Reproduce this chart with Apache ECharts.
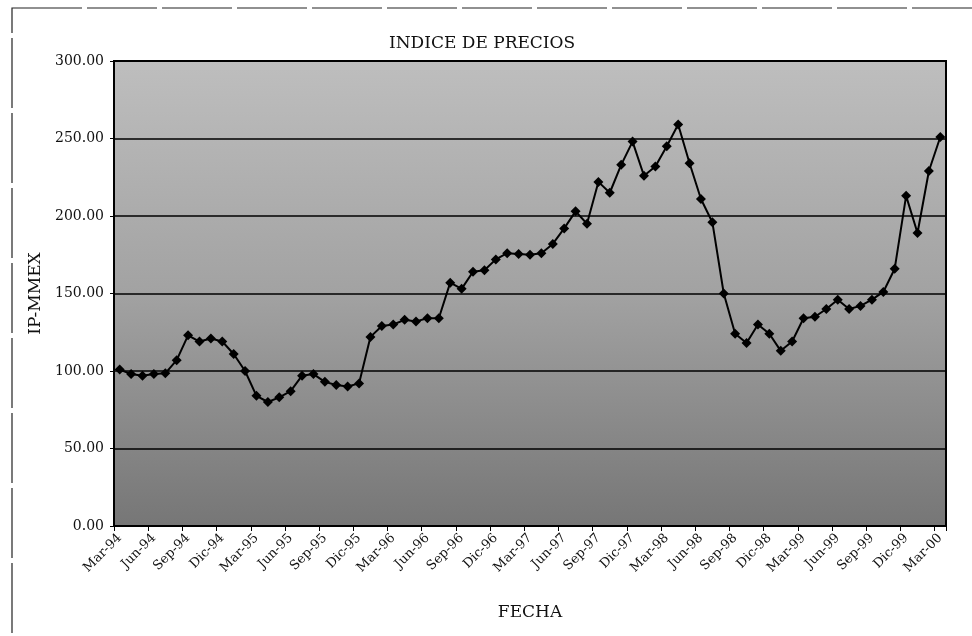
<!DOCTYPE html>
<html>
<head>
<meta charset="utf-8">
<script src="https://cdn.jsdelivr.net/npm/echarts@6/dist/echarts.min.js"></script>
<style>
  html, body { margin: 0; padding: 0; background: #fff; }
  #chart { width: 972px; height: 636px; }
</style>
</head>
<body>
<div id="chart"></div>
<script>
// meses Mar-94 .. Mar-00
const fechas = [
  'Mar-94','Abr-94','May-94','Jun-94','Jul-94','Ago-94','Sep-94','Oct-94','Nov-94','Dic-94',
  'Ene-95','Feb-95','Mar-95','Abr-95','May-95','Jun-95','Jul-95','Ago-95','Sep-95','Oct-95','Nov-95','Dic-95',
  'Ene-96','Feb-96','Mar-96','Abr-96','May-96','Jun-96','Jul-96','Ago-96','Sep-96','Oct-96','Nov-96','Dic-96',
  'Ene-97','Feb-97','Mar-97','Abr-97','May-97','Jun-97','Jul-97','Ago-97','Sep-97','Oct-97','Nov-97','Dic-97',
  'Ene-98','Feb-98','Mar-98','Abr-98','May-98','Jun-98','Jul-98','Ago-98','Sep-98','Oct-98','Nov-98','Dic-98',
  'Ene-99','Feb-99','Mar-99','Abr-99','May-99','Jun-99','Jul-99','Ago-99','Sep-99','Oct-99','Nov-99','Dic-99',
  'Ene-00','Feb-00','Mar-00'
];

const ipMmex = [
  101, 98, 97, 98, 98.5, 107, 123, 119, 121, 119,
  111, 100, 84, 80, 83, 87, 97, 98, 93, 91, 90, 92,
  122, 129, 130, 133, 132, 134, 134, 157, 153, 164, 165, 172,
  176, 175.5, 175, 176, 182, 192, 203, 195, 222, 215, 233, 248,
  226, 232, 245, 259, 234, 211, 196, 150, 124, 118, 130, 124,
  113, 119, 134, 135, 140, 146, 140, 142, 146, 151, 166, 213,
  189, 229, 251
];

const yTicks = [0, 50, 100, 150, 200, 250, 300];

const serif = '"DejaVu Serif", "Liberation Serif", serif';

const myChart = echarts.init(document.getElementById('chart'));

const option = {
  animation: false,
  backgroundColor: '#ffffff',
  title: {
    text: 'INDICE DE PRECIOS',
    left: 384,
    top: 30,
    textStyle: {
      fontFamily: serif,
      fontSize: 17,
      fontWeight: 'normal',
      color: '#111'
    }
  },
  graphic: [
    {
      type: 'rect',
      shape: { x: 12, y: 8, width: 1000, height: 700 },
      style: { fill: 'none', stroke: '#222', lineWidth: 1.2, lineDash: [70, 5] },
      silent: true
    }
  ],
  grid: {
    left: 114,
    right: 26,
    top: 61,
    bottom: 110,
    show: true,
    borderColor: '#000',
    borderWidth: 2,
    backgroundColor: {
      type: 'linear', x: 0, y: 0, x2: 0, y2: 1,
      colorStops: [
        { offset: 0, color: '#bebebe' },
        { offset: 0.5, color: '#a2a2a2' },
        { offset: 1, color: '#767676' }
      ]
    }
  },
  xAxis: {
    type: 'category',
    data: fechas,
    boundaryGap: true,
    name: 'FECHA',
    nameLocation: 'middle',
    nameGap: 78,
    nameTextStyle: { fontFamily: serif, fontSize: 17, color: '#111' },
    axisLine: { lineStyle: { color: '#000', width: 2 } },
    axisTick: { show: true, interval: 2, length: 5, lineStyle: { color: '#000' } },
    axisLabel: {
      interval: 2,
      rotate: 45,
      fontFamily: serif,
      fontSize: 13,
      color: '#111',
      margin: 10
    },
    splitLine: { show: false }
  },
  yAxis: {
    type: 'value',
    min: 0,
    max: 300,
    interval: 50,
    name: 'IP-MMEX',
    nameLocation: 'middle',
    nameGap: 68,
    nameTextStyle: { fontFamily: serif, fontSize: 17, color: '#111' },
    axisLine: { show: true, lineStyle: { color: '#000', width: 2 } },
    axisTick: { show: true, length: 4, lineStyle: { color: '#000' } },
    axisLabel: {
      fontFamily: serif,
      fontSize: 14,
      color: '#111',
      margin: 10,
      formatter: v => yTicks.includes(v) ? v.toFixed(2) : ''
    },
    splitLine: { show: true, lineStyle: { color: '#000', width: 1.5 } }
  },
  series: [
    {
      type: 'line',
      data: ipMmex,
      symbol: 'diamond',
      symbolSize: 10,
      showAllSymbol: true,
      lineStyle: { color: '#000', width: 2 },
      itemStyle: { color: '#000' }
    }
  ]
};

myChart.setOption(option);
</script>
</body>
</html>
